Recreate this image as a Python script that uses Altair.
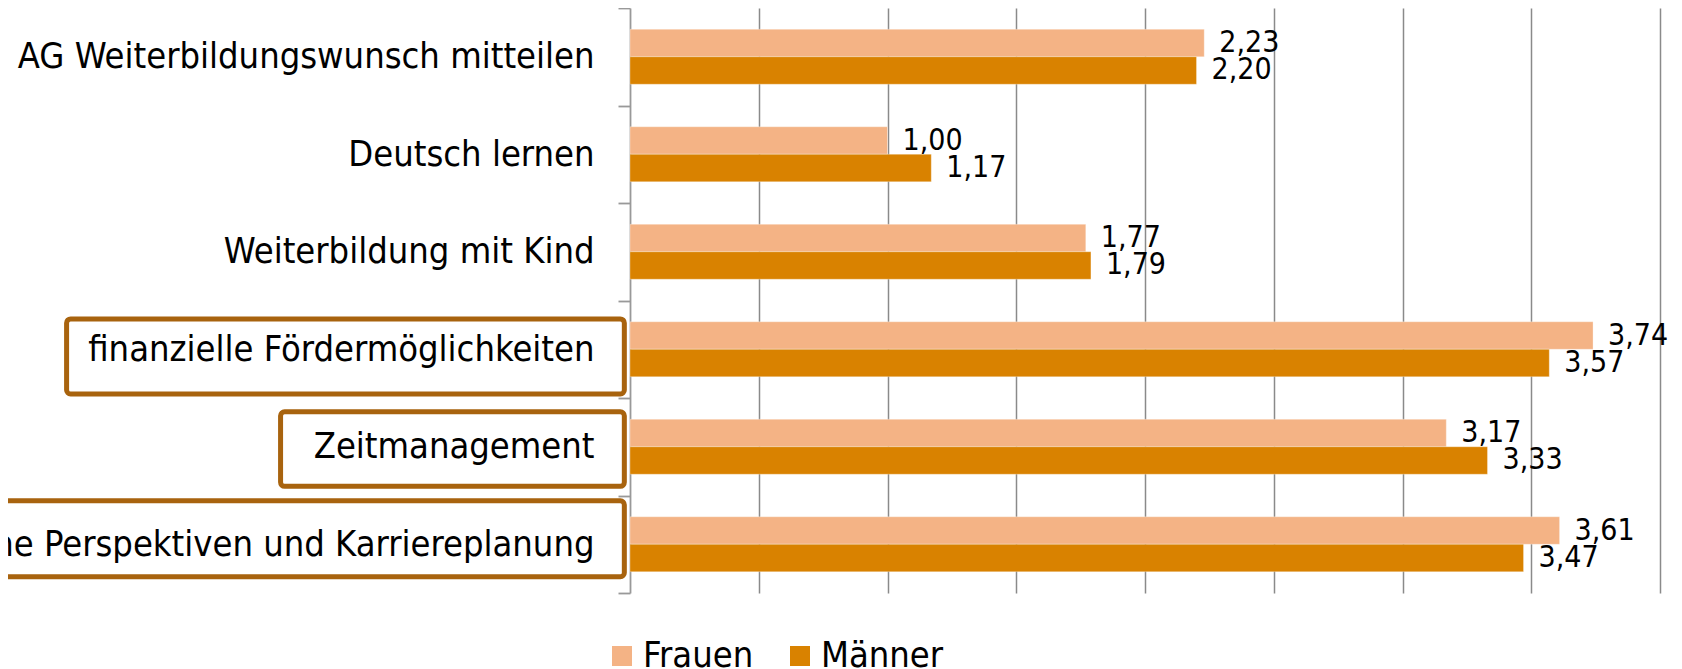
import altair as alt
import pandas as pd

# ---- data ----
categories = [
    "AG Weiterbildungswunsch mitteilen",
    "Deutsch lernen",
    "Weiterbildung mit Kind",
    "finanzielle Fördermöglichkeiten",
    "Zeitmanagement",
    "Eigene Perspektiven und Karriereplanung",
]
series = ["Frauen", "Männer"]
frauen = [2.23, 1.00, 1.77, 3.74, 3.17, 3.61]
maenner = [2.20, 1.17, 1.79, 3.57, 3.33, 3.47]
colors = ["#F4B385", "#D98200"]
grid_values = [0.5, 1, 1.5, 2, 2.5, 3, 3.5, 4]

# highlight boxes around three axis labels (x in value units, y in category-band units from top)
box_for = ["finanzielle Fördermöglichkeiten", "Zeitmanagement", "Eigene Perspektiven und Karriereplanung"]
box_x = [-2.188, -1.357, -2.65]
box_x2 = [-0.022, -0.022, -0.022]
box_y = [3.189, 4.142, 5.054]
box_y2 = [3.958, 4.906, 5.833]

FONT = "DejaVu Sans Condensed"

rows = []
for c, f, m in zip(categories, frauen, maenner):
    rows.append({"Kategorie": c, "Gruppe": series[0], "Wert": f})
    rows.append({"Kategorie": c, "Gruppe": series[1], "Wert": m})
df = pd.DataFrame(rows)

boxes = pd.DataFrame({"label": box_for, "x": box_x, "x2": box_x2, "y": box_y, "y2": box_y2})

xscale = alt.Scale(domain=[0, 4], nice=False, zero=True)
yscale = alt.Scale(domain=categories, paddingInner=0, paddingOuter=0)
offscale = alt.Scale(domain=series, paddingInner=0, paddingOuter=0.774)

base = alt.Chart(df)

bars = base.mark_bar(stroke="white", strokeWidth=0.6, strokeOpacity=0.5).encode(
    x=alt.X(
        "Wert:Q",
        scale=xscale,
        axis=alt.Axis(
            values=grid_values,
            grid=True,
            gridColor="#8A8A8A",
            gridWidth=1.5,
            labels=False,
            ticks=False,
            domain=False,
            title=None,
        ),
    ),
    y=alt.Y(
        "Kategorie:N",
        sort=categories,
        scale=yscale,
        axis=alt.Axis(
            title=None,
            tickBand="extent",
            tickSize=12,
            tickColor="#999999",
            tickWidth=1.8,
            domainColor="#999999",
            domainWidth=1.8,
            labelFont=FONT,
            labelFontSize=36,
            labelColor="#000000",
            labelPadding=24,
            labelLimit=1000,
            grid=False,
        ),
    ),
    yOffset=alt.YOffset("Gruppe:N", sort=series, scale=offscale),
    color=alt.Color(
        "Gruppe:N",
        sort=series,
        scale=alt.Scale(domain=series, range=colors),
        legend=alt.Legend(
            title=None,
            orient="none",
            legendX=-26,
            legendY=630,
            direction="horizontal",
            symbolType="square",
            symbolSize=400,
            symbolStrokeWidth=0,
            labelFont=FONT,
            labelFontSize=36,
            labelColor="#000000",
            labelOffset=3,
            columnPadding=28,
            padding=0,
        ),
    ),
)

labels = base.transform_calculate(
    txt="replace(format(datum.Wert, '.2f'), '.', ',')"
).mark_text(align="left", baseline="middle", dx=15, font=FONT, fontSize=30, color="#000000").encode(
    x=alt.X("Wert:Q", scale=xscale),
    y=alt.Y("Kategorie:N", sort=categories, scale=yscale),
    yOffset=alt.YOffset("Gruppe:N", sort=series, scale=offscale),
    text="txt:N",
)

main = alt.layer(bars, labels)

box_layer = alt.Chart(boxes).mark_rect(
    filled=False, stroke="#A8630E", strokeWidth=5, cornerRadius=4
).encode(
    x=alt.X("x:Q", scale=xscale),
    x2="x2:Q",
    y=alt.Y("y:Q", scale=alt.Scale(domain=[0, 6], reverse=True, nice=False, zero=False), axis=None),
    y2="y2:Q",
)

chart = (
    alt.layer(main, box_layer)
    .resolve_scale(y="independent")
    .properties(
        width=1030,
        height=585,
        autosize=alt.AutoSizeParams(type="none"),
        padding={"left": 622, "top": 0, "right": 14, "bottom": 76},
        background="white",
    )
    .configure_view(stroke=None)
)

chart.save("out.html", embed_options={"renderer": "svg", "actions": False})
